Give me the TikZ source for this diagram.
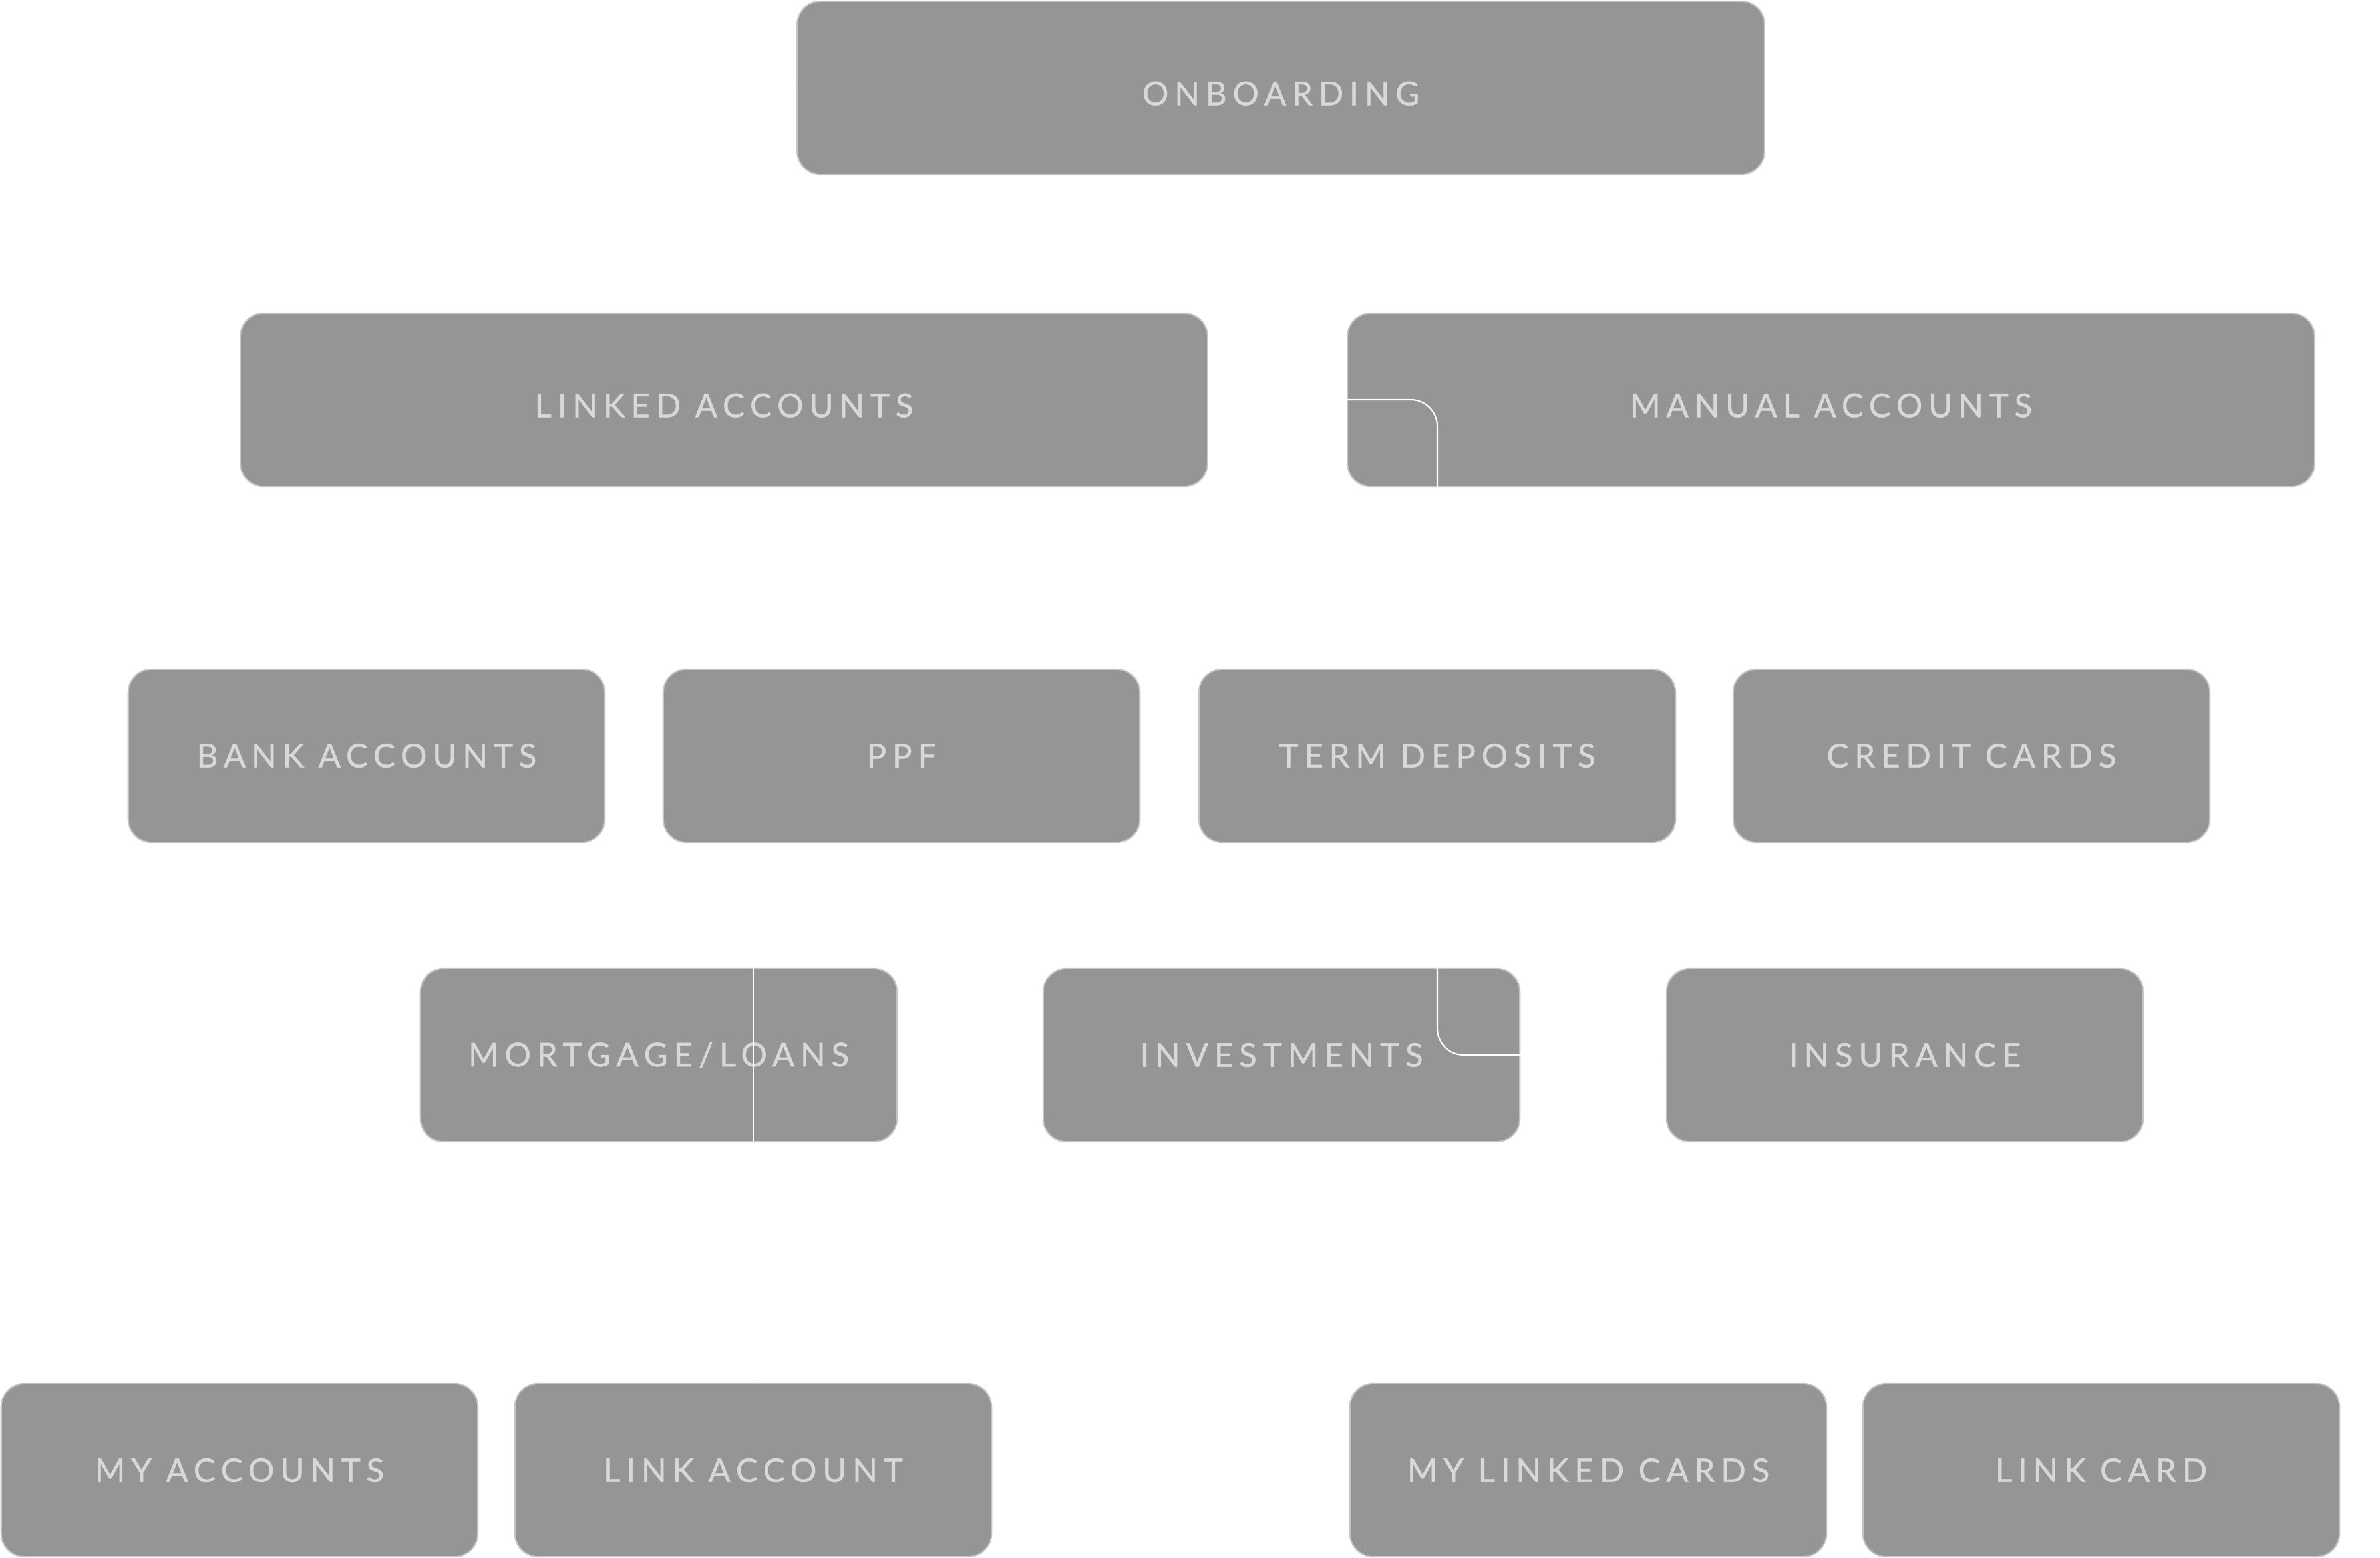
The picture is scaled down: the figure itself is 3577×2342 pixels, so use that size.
\documentclass[tikz,border=0pt]{standalone}
\usepackage{fontspec}
\newfontfamily\boxfont[LetterSpace=18,FakeBold=0.9]{Lato}
\usetikzlibrary{arrows}
\definecolor{boxgrey}{HTML}{959595}
\definecolor{boxline}{HTML}{C4C4C4}
\definecolor{boxtext}{HTML}{D8D8D8}

\begin{document}
\begin{tikzpicture}[x=0.01cm,y=-0.01cm,semithick]
  \tikzstyle{menu}=[rectangle,rounded corners=0.35cm,draw=boxline,fill=boxgrey,text=boxtext,line width=0.6pt,
                    minimum width=7.16cm,minimum height=2.6cm,inner sep=0pt,font=\boxfont\fontsize{14}{17}\selectfont]
  \tikzstyle{wide}=[menu,minimum width=14.53cm,text height=15pt,text depth=0pt]
  \tikzstyle{link}=[draw=white,line width=0.6pt,rounded corners=0.4cm]

  \useasboundingbox (0,0) rectangle (3577,2342);

  \node[wide]   (On)     at (1925,132)  {ONBOARDING};
  \node[wide]   (Linked) at (1088,601)  {LINKED ACCOUNTS};
  \node[wide]   (Manual) at (2752,601)  {MANUAL ACCOUNTS};

  \node[menu]   (Bank)   at (551,1136)  {BANK ACCOUNTS};
  \node[menu]   (Ppf)    at (1355,1136) {PPF};
  \node[menu]   (Term)   at (2160,1136) {TERM DEPOSITS};
  \node[menu]   (Credit) at (2963,1136) {CREDIT CARDS};

  \node[menu]   (Mort)   at (990,1586)  {MORTGAGE/LOANS};
  \node[menu]   (Invest) at (1926,1586) {INVESTMENTS};
  \node[menu]   (Ins)    at (2863,1586) {INSURANCE};

  \node[menu]   (MyAcc)   at (360,2210)  {MY ACCOUNTS};
  \node[menu]   (LinkAcc) at (1132,2210) {LINK ACCOUNT};
  \node[menu]   (MyCards) at (2387,2210) {MY LINKED CARDS};
  \node[menu]   (LinkCrd) at (3158,2210) {LINK CARD};

  \draw[link] (On.west) -| (Linked.north);
  \draw[link] (On.east) -| (Manual.north);
  \draw[link] (Linked.east) -| (Term.north);
  \draw[link] (Term.south) |- (Ins.west);
  \draw[link] (LinkAcc.north |- Ppf.south) -- (LinkAcc.north);
\end{tikzpicture}
\end{document}
